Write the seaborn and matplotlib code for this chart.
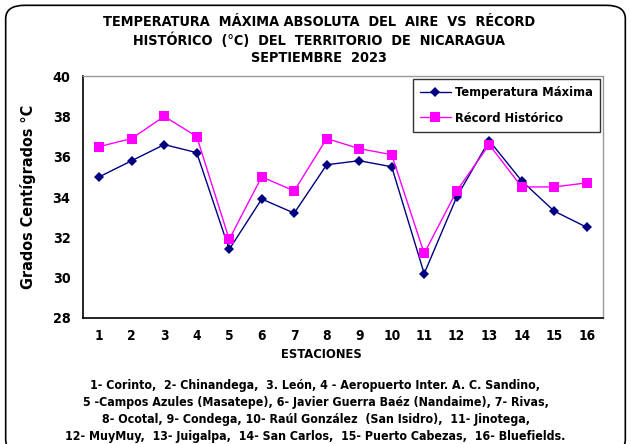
"""Temperatura maxima absoluta vs record historico - Nicaragua, septiembre 2023"""
import pandas as pd
import numpy as np
import matplotlib
matplotlib.use("Agg")
import matplotlib.pyplot as plt
from matplotlib.patches import FancyBboxPatch
from matplotlib.ticker import FixedLocator
from matplotlib import font_manager
import seaborn as sns

# --- data ---
estaciones = list(range(1, 17))
temp_maxima = [35.0, 35.8, 36.6, 36.2, 31.4, 33.9, 33.2, 35.6,
               35.8, 35.5, 30.2, 34.0, 36.8, 34.8, 33.3, 32.5]
record_historico = [36.5, 36.9, 38.0, 37.0, 31.9, 35.0, 34.3, 36.9,
                    36.4, 36.1, 31.2, 34.3, 36.6, 34.5, 34.5, 34.7]
series_names = ["Temperatura Máxima", "Récord Histórico"]

title = ("TEMPERATURA  MÁXIMA ABSOLUTA  DEL  AIRE  VS  RÉCORD\n"
         "HISTÓRICO  (°C)  DEL  TERRITORIO  DE  NICARAGUA\n"
         "SEPTIEMBRE  2023")
footnote = [
    "1- Corinto,  2- Chinandega,  3. León, 4 - Aeropuerto Inter. A. C. Sandino,",
    "5 -Campos Azules (Masatepe), 6- Javier Guerra Baéz (Nandaime), 7- Rivas,",
    "8- Ocotal, 9- Condega, 10- Raúl González  (San Isidro),  11- Jinotega,",
    "12- MuyMuy,  13- Juigalpa,  14- San Carlos,  15- Puerto Cabezas,  16- Bluefields.",
]

df = pd.DataFrame({
    "estacion": estaciones * 2,
    "valor": temp_maxima + record_historico,
    "serie": [series_names[0]] * 16 + [series_names[1]] * 16,
})

sns.set_theme(style="white")
for key in ["text.color", "axes.labelcolor", "xtick.color", "ytick.color"]:
    plt.rcParams[key] = "black"

# look for a narrow/condensed bold face, like the Arial Narrow of the original
narrow_file = None
for f in font_manager.fontManager.ttflist:
    tag = (f.name + " " + f.fname).lower()
    if ("narrow" in tag or "condensed" in tag) and f.weight in ("bold", 700):
        if "semi" in tag or "extra" in tag or "italic" in tag or "oblique" in tag:
            continue
        narrow_file = f.fname
        break

if narrow_file:
    scale = 1.0
    plt.rcParams["font.family"] = [font_manager.FontProperties(fname=narrow_file).get_name(),
                                   "DejaVu Sans"]
else:
    scale = 0.92
    plt.rcParams["font.family"] = ["Liberation Sans", "DejaVu Sans"]
plt.rcParams["font.weight"] = "bold"


def fp(size):
    if narrow_file:
        return font_manager.FontProperties(fname=narrow_file, size=size)
    return font_manager.FontProperties(family="Liberation Sans", weight="bold", size=size * scale)


fig = plt.figure(figsize=(6.31, 4.44), dpi=100)
fig.patch.set_facecolor("white")

# rounded frame around the whole chart
frame = FancyBboxPatch((0.009, -0.02), 0.982, 1.008, boxstyle="round,pad=0,rounding_size=0.03",
                       transform=fig.transFigure, fill=False, edgecolor="black", linewidth=1.2)
fig.patches.append(frame)

ax = fig.add_axes([0.1315, 0.2838, 0.824, 0.545])

palette = {series_names[0]: "#000080", series_names[1]: "#FF00FF"}
markers = {series_names[0]: "D", series_names[1]: "s"}
sns.lineplot(data=df, x="estacion", y="valor", hue="serie", style="serie",
             palette=palette, markers=markers, dashes=False, linewidth=1.0,
             markersize=7, markeredgewidth=0, ax=ax)
for line in ax.lines:
    if line.get_marker() == "D":
        line.set_markersize(5.5)

ax.set_xlim(0.5, 16.5)
ax.set_ylim(28, 40)
ax.set_yticks(np.arange(28, 41, 2))
ax.set_xticks(estaciones)
ax.xaxis.set_minor_locator(FixedLocator(np.arange(0.5, 17, 1)))
ax.tick_params(axis="x", which="major", length=0, pad=8)
ax.tick_params(axis="x", which="minor", length=5, width=1, direction="out", color="black")
ax.tick_params(axis="y", length=5, width=1, direction="out", color="black", pad=4)
for lbl in ax.get_xticklabels():
    lbl.set_fontproperties(fp(9.8))
for lbl in ax.get_yticklabels():
    lbl.set_fontproperties(fp(10.3))

for side in ["left", "bottom"]:
    ax.spines[side].set_color("black")
    ax.spines[side].set_linewidth(1.2)
for side in ["top", "right"]:
    ax.spines[side].set_color("#999999")
    ax.spines[side].set_linewidth(1.0)

ax.set_xlabel("ESTACIONES", fontproperties=fp(9.3))
ax.xaxis.set_label_coords(0.458, -0.125)
ax.set_ylabel("Grados Centígrados °C", fontproperties=fp(11.5))
ax.yaxis.set_label_coords(-0.09, 0.5)

leg = ax.legend(loc="upper right", prop=fp(9.3), frameon=True, fancybox=False,
                edgecolor="black", borderpad=0.55, handlelength=2.4, handletextpad=0.3,
                labelspacing=0.95, borderaxespad=0.25)
leg.get_frame().set_linewidth(1.0)

fig.text(0.505, 0.967, title, ha="center", va="top", fontproperties=fp(10.4),
         linespacing=1.3)

y0 = 1 - 385 / 444
for i, line in enumerate(footnote):
    fig.text(0.5, y0 - i * 17 / 444, line, ha="center", va="center",
             fontproperties=fp(8.9))

fig.savefig("out.png", dpi=100)
